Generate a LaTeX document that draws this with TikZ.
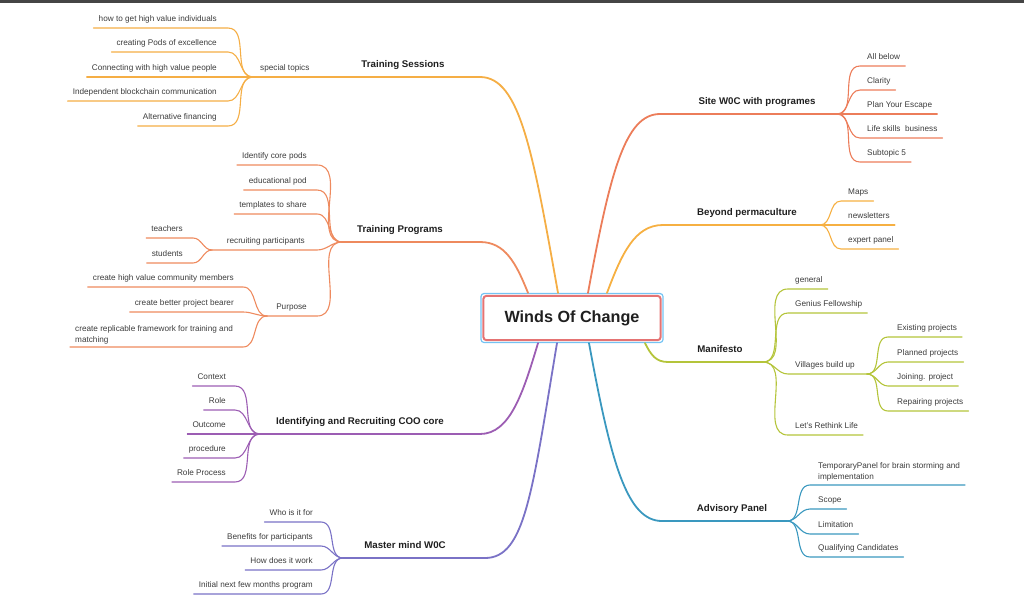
\documentclass[tikz,border=0pt]{standalone}
\usepackage{fontspec}
\setmainfont{Liberation Sans}
\usetikzlibrary{calc}

\definecolor{tsorange}{HTML}{F5AE45}
\definecolor{tpcoral}{HTML}{EE8A5E}
\definecolor{swcoral}{HTML}{EC7D5A}
\definecolor{bporange}{HTML}{F6B042}
\definecolor{mfgreen}{HTML}{B4C43A}
\definecolor{apblue}{HTML}{3A98BF}
\definecolor{idpurple}{HTML}{9C5DB3}
\definecolor{mmblue}{HTML}{7A72C6}
\definecolor{rootred}{HTML}{E57373}
\definecolor{rootblue}{HTML}{74C3F3}
\definecolor{leafgray}{HTML}{3C3C3C}
\definecolor{topicgray}{HTML}{1F1F1F}
\definecolor{topbar}{HTML}{454545}

\begin{document}
\begin{tikzpicture}[x=1pt,y=-1pt,line cap=round,
                    leaf/.style={font=\fontsize{8.2}{10.5}\selectfont,text=leafgray,inner xsep=5pt,inner ysep=0pt},
                    topic/.style={font=\fontsize{9.7}{12}\selectfont\bfseries,text=topicgray,inner sep=0pt,anchor=base},
                    root/.style={draw=rootblue,line width=1.2pt,rounded corners=3pt,minimum width=182pt,minimum height=49pt,
                                 inner sep=0pt,font=\fontsize{16.2}{19}\selectfont\bfseries,text=topicgray},
                    bough/.style={line width=1.8pt},
                    twig/.style={line width=1.1pt}]

	\useasboundingbox (0,0) rectangle (1024,603);
	\fill[topbar] (0,0) rectangle (1024,2.5);

	\node[root] (root) at (572,318) {Winds Of Change};
	\draw[rootred,line width=2pt,rounded corners=3pt] ($(root.north west)+(3,3)$) rectangle ($(root.south east)+(-3,-3)$);

	% Training Sessions
	\coordinate (tsh) at (480,77);
	\coordinate (tsj) at (345,77);
	\coordinate (stj) at (253,77);
	\node[topic] (ts) at (403,67) {Training Sessions};
	\node[leaf,anchor=base west] (st) at (255,70.5) {special topics};
	\draw[tsorange,bough] ([xshift=-14pt]root.north) .. controls +(-25,-140) and +(40,0) .. (tsh) -- (tsj);
	\draw[tsorange,twig] (tsj) -- (stj);
	\foreach \txt/\y [count=\i] in {how to get high value individuals/28,creating Pods of excellence/52,
	                                Connecting with high value people/77,Independent blockchain communication/101,
	                                Alternative financing/126}{
	  \node[leaf,anchor=base east] (st\i) at (222,\y-6.5) {\txt};
	  \coordinate (ste\i) at (228,\y);
	  \draw[tsorange,twig] (st\i.west |- ste\i) -- (ste\i) to[out=0,in=180] (stj);
	}

	% Training Programs
	\coordinate (tph) at (480,242);
	\coordinate (tpj) at (342,242);
	\node[topic] (tp) at (400,232) {Training Programs};
	\draw[tpcoral,bough] ([xshift=-44pt]root.north) .. controls +(-12,-30) and +(25,0) .. (tph) -- (tpj);
	\foreach \txt/\y [count=\i] in {Identify core pods/165,educational pod/190,templates to share/214}{
	  \node[leaf,anchor=base east] (tp\i) at (312,\y-6.5) {\txt};
	  \coordinate (tpe\i) at (317,\y);
	  \draw[tpcoral,twig] (tp\i.west |- tpe\i) -- (tpe\i) to[out=0,in=180] (tpj);
	}

	\coordinate (rpj) at (212,250);
	\coordinate (rpe) at (317,250);
	\node[leaf,anchor=base east] (rp) at (310,243.5) {recruiting participants};
	\draw[tpcoral,twig] (rpj) -- (rpe) to[out=0,in=180] (tpj);
	\foreach \txt/\y [count=\i] in {teachers/238,students/263}{
	  \node[leaf,anchor=base east] (rp\i) at (188,\y-6.5) {\txt};
	  \coordinate (rpe\i) at (193,\y);
	  \draw[tpcoral,twig] (rp\i.west |- rpe\i) -- (rpe\i) to[out=0,in=180] (rpj);
	}

	\coordinate (puj) at (267,316);
	\coordinate (pue) at (317,316);
	\node[leaf,anchor=base east] (pu) at (312,309.5) {Purpose};
	\draw[tpcoral,twig] (puj) -- (pue) to[out=0,in=180] (tpj);
	\foreach \txt/\y [count=\i] in {create high value community members/287,create better project bearer/312}{
	  \node[leaf,anchor=base east] (pu\i) at (239,\y-6.5) {\txt};
	  \coordinate (pue\i) at (243,\y);
	  \draw[tpcoral,twig] (pu\i.west |- pue\i) -- (pue\i) to[out=0,in=180] (puj);
	}
	\node[leaf,anchor=south west,align=left] (pu3) at (70,344) {create replicable framework for training and\\matching};
	\coordinate (pue3) at (243,347);
	\draw[tpcoral,twig] (pu3.west |- pue3) -- (pue3) to[out=0,in=180] (puj);

	% Identifying and Recruiting COO core
	\coordinate (idh) at (480,434);
	\coordinate (idj) at (260,434);
	\node[topic] (id) at (360,424) {Identifying and Recruiting COO core};
	\draw[idpurple,bough] ([xshift=-34pt]root.south) .. controls +(-15,50) and +(30,0) .. (idh) -- (idj);
	\foreach \txt/\y [count=\i] in {Context/386,Role/410,Outcome/434,procedure/458,Role Process/482}{
	  \node[leaf,anchor=base east] (id\i) at (231,\y-6.5) {\txt};
	  \coordinate (ide\i) at (235,\y);
	  \draw[idpurple,twig] (id\i.west |- ide\i) -- (ide\i) to[out=0,in=180] (idj);
	}

	% Master mind W0C
	\coordinate (mmh) at (485,558);
	\coordinate (mmj) at (343,558);
	\node[topic] (mm) at (405,548) {Master mind W0C};
	\draw[mmblue,bough] ([xshift=-15pt]root.south) .. controls +(-25,150) and +(40,0) .. (mmh) -- (mmj);
	\foreach \txt/\y [count=\i] in {Who is it for/522,Benefits for participants/546,How does it work/570,
	                                Initial next few months program/594}{
	  \node[leaf,anchor=base east] (mm\i) at (318,\y-6.5) {\txt};
	  \coordinate (mme\i) at (321,\y);
	  \draw[mmblue,twig] (mm\i.west |- mme\i) -- (mme\i) to[out=0,in=180] (mmj);
	}

	% Site W0C with programes
	\coordinate (swh) at (660,114);
	\coordinate (swj) at (837,114);
	\node[topic] (sw) at (757,104) {Site W0C with programes};
	\draw[swcoral,bough] ([xshift=16pt]root.north) .. controls +(22,-120) and +(-35,0) .. (swh) -- (swj);
	\foreach \txt/\y [count=\i] in {All below/66,Clarity/90,Plan Your Escape/114,Life skills~ business/138,Subtopic 5/162}{
	  \node[leaf,anchor=base west] (sw\i) at (862,\y-6.5) {\txt};
	  \coordinate (swe\i) at (860,\y);
	  \draw[swcoral,twig] (swj) to[out=0,in=180] (swe\i) -- (sw\i.east |- swe\i);
	}

	% Beyond permaculture
	\coordinate (bph) at (663,225);
	\coordinate (bpj) at (820,225);
	\node[topic] (bp) at (747,215) {Beyond permaculture};
	\draw[bporange,bough] ([xshift=35pt]root.north) .. controls +(15,-40) and +(-28,0) .. (bph) -- (bpj);
	\foreach \txt/\y [count=\i] in {Maps/201,newsletters/225,expert panel/249}{
	  \node[leaf,anchor=base west] (bp\i) at (843,\y-6.5) {\txt};
	  \coordinate (bpe\i) at (841,\y);
	  \draw[bporange,twig] (bpj) to[out=0,in=180] (bpe\i) -- (bp\i.east |- bpe\i);
	}

	% Manifesto
	\coordinate (mfh) at (668,362);
	\coordinate (mfj) at (763,362);
	\node[topic] (mf) at (720,352) {Manifesto};
	\draw[mfgreen,bough] ([xshift=73pt]root.south) .. controls +(6,12) and +(-12,0) .. (mfh) -- (mfj);
	\foreach \txt/\y [count=\i] in {general/289,Genius Fellowship/313,Let's Rethink Life/435}{
	  \node[leaf,anchor=base west] (mf\i) at (790,\y-6.5) {\txt};
	  \coordinate (mfe\i) at (788,\y);
	  \draw[mfgreen,twig] (mfj) to[out=0,in=180] (mfe\i) -- (mf\i.east |- mfe\i);
	}

	\coordinate (vbe) at (788,374);
	\coordinate (vbj) at (867,374);
	\node[leaf,anchor=base west] (vb) at (790,367.5) {Villages build up};
	\draw[mfgreen,twig] (mfj) to[out=0,in=180] (vbe) -- (vbj);
	\foreach \txt/\y [count=\i] in {Existing projects/337,Planned projects/362,Joining. project/386,Repairing projects/411}{
	  \node[leaf,anchor=base west] (vb\i) at (892,\y-6.5) {\txt};
	  \coordinate (vbe\i) at (888,\y);
	  \draw[mfgreen,twig] (vbj) to[out=0,in=180] (vbe\i) -- (vb\i.east |- vbe\i);
	}

	% Advisory Panel
	\coordinate (aph) at (662,521);
	\coordinate (apj) at (787,521);
	\node[topic] (ap) at (732,511) {Advisory Panel};
	\draw[apblue,bough] ([xshift=17pt]root.south) .. controls +(22,120) and +(-35,0) .. (aph) -- (apj);
	\node[leaf,anchor=south west,align=left] (ap1) at (813,481) {TemporaryPanel for brain storming and\\implementation};
	\coordinate (ape1) at (810,485);
	\draw[apblue,twig] (apj) to[out=0,in=180] (ape1) -- (ap1.east |- ape1);
	\foreach \txt/\y [count=\i from 2] in {Scope/509,Limitation/534,Qualifying Candidates/557}{
	  \node[leaf,anchor=base west] (ap\i) at (813,\y-6.5) {\txt};
	  \coordinate (ape\i) at (810,\y);
	  \draw[apblue,twig] (apj) to[out=0,in=180] (ape\i) -- (ap\i.east |- ape\i);
	}

\end{tikzpicture}
\end{document}
